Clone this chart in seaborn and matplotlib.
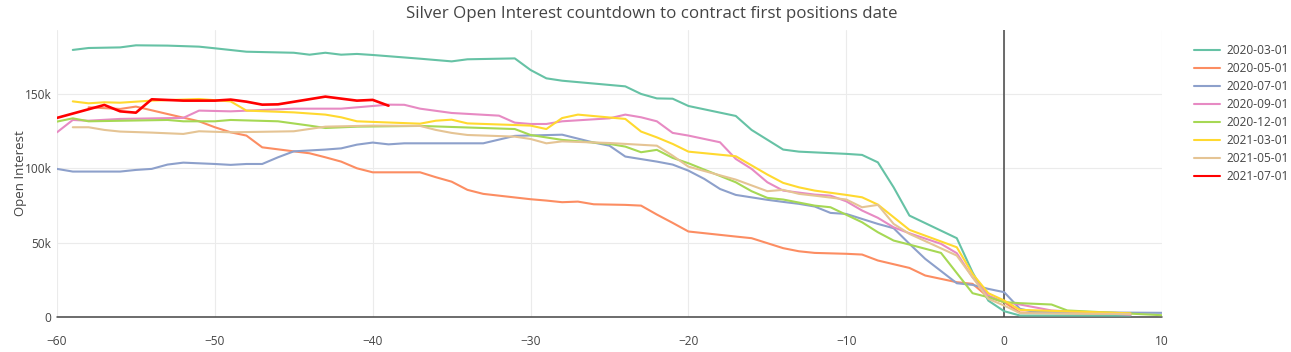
import pandas as pd
import seaborn as sns
import matplotlib.pyplot as plt

# Контракты (легенда) и их значения open interest, тыс. контрактов
contracts = ['2020-03-01', '2020-05-01', '2020-07-01', '2020-09-01',
             '2020-12-01', '2021-03-01', '2021-05-01', '2021-07-01']

days_2003 = [-59, -58, -56, -55, -53, -51, -50, -48, -45, -44, -43, -42, -41, -40, -37, -35, -34,
             -31, -30, -29, -28, -24, -23, -22, -21, -20, -17, -16, -14, -13, -10, -9, -8, -7, -6,
             -3, -2, -1, 0, 1, 8]
oi_2003 = [179.6, 180.9, 181.3, 182.7, 182.5, 181.8, 180.7, 178.4, 177.7, 176.4, 177.7, 176.4, 176.9,
           176.2, 173.7, 171.9, 173.3, 173.9, 166.1, 160.5, 158.9, 155.1, 150.0, 147.0, 146.8, 141.9,
           135.2, 125.8, 112.6, 111.2, 109.7, 109.0, 104.0, 87.2, 68.2, 53.0, 30.0, 11.0, 3.9, 1.0, 1.0]

days_2005 = [-58, -56, -55, -53, -51, -50, -49, -48, -47, -45, -44, -43, -42, -41, -40, -37, -36, -35,
             -34, -33, -30, -29, -28, -27, -26, -24, -23, -22, -21, -20, -17, -16, -14, -13, -12, -10,
             -9, -8, -6, -5, -3, -2, -1, 0, 1, 8]
oi_2005 = [141, 139.9, 141.5, 136.5, 131.6, 127.6, 124.2, 122, 114.1, 111.4, 110.1, 107.4, 104.5, 100,
           97.3, 97.3, 94, 91, 85.5, 82.8, 79.2, 78.3, 77.2, 77.6, 75.8, 75.4, 74.9, 68.9, 63.3, 57.5,
           54.1, 53, 46.3, 44.2, 43.1, 42.5, 42, 38, 33, 27.9, 23.4, 22.3, 13.3, 10, 3, 2]

days_2007 = [-60, -59, -56, -55, -54, -53, -52, -50, -49, -48, -47, -46, -45, -43, -42, -41, -40, -39,
             -38, -33, -32, -31, -28, -26, -25, -24, -22, -21, -20, -19, -18, -17, -15, -14, -13, -12,
             -11, -10, -8, -7, -6, -5, -3, -2, -1, 0, 1, 2, 10]
oi_2007 = [99.6, 97.8, 97.8, 98.9, 99.6, 102.5, 103.8, 102.9, 102.3, 102.9, 102.9, 107.4, 111.4, 112.6,
           113.4, 115.9, 117.3, 116.1, 116.8, 116.8, 119.3, 121.8, 122.6, 117.3, 115.2, 107.9, 104.5,
           102.5, 98.4, 92.9, 86.1, 82.1, 78.8, 77.4, 76.1, 74.3, 70, 69.3, 62.6, 59.7, 49.2, 39.1,
           22.7, 21.6, 18.9, 16.7, 5.5, 3.3, 2.8]

days_2009 = [-60, -59, -58, -56, -52, -51, -49, -45, -42, -39, -38, -37, -35, -32, -31, -30, -29, -28,
             -25, -24, -23, -22, -21, -20, -18, -17, -16, -15, -14, -12, -11, -10, -9, -8, -7, -6, -4,
             -3, -2, -1, 0, 1, 3, 8]
oi_2009 = [124.2, 132.5, 132, 133.2, 133.9, 138.8, 138.3, 140.1, 140.1, 142.8, 142.7, 140.1, 137.2,
           135.4, 130.7, 129.8, 129.8, 131.6, 133.6, 136.1, 134.3, 131.6, 123.8, 122, 117.5, 106.3,
           99.6, 90.6, 85, 82.3, 81.6, 77.8, 71.6, 66.7, 60.3, 56.3, 49.2, 42.9, 26.7, 14.4, 10, 8.4,
           4.4, 1.5]

days_2012 = [-60, -59, -58, -53, -52, -50, -49, -46, -44, -43, -41, -37, -31, -30, -28, -25, -24, -23,
             -22, -21, -20, -17, -16, -15, -14, -12, -11, -9, -8, -7, -6, -4, -2, -1, 0, 1, 3, 4, 10]
oi_2012 = [131.4, 133.6, 131.6, 132.5, 131.6, 131.6, 132.5, 131.6, 128.7, 127.1, 128, 128.5, 126.4,
           122.4, 119.1, 116.4, 114.6, 110.8, 112.4, 107, 103.4, 90.6, 84.6, 80.1, 79, 74.9, 73.8,
           63.7, 57, 51.4, 48.7, 43.1, 16, 13.3, 10, 9.3, 8.4, 4.4, 1.2]

days_2103 = [-59, -58, -57, -56, -54, -51, -49, -48, -45, -43, -42, -41, -37, -36, -35, -34, -31, -30,
             -29, -28, -27, -24, -23, -22, -21, -20, -17, -15, -14, -13, -12, -10, -9, -8, -6, -3, -2,
             -1, 0, 1, 8]
oi_2103 = [145, 143.7, 144.4, 144.1, 145.5, 146.6, 145, 138.8, 137.6, 136.1, 134.3, 131.6, 130, 132,
           132.7, 130.2, 129.1, 128.7, 126.4, 133.8, 136.1, 133.2, 124.7, 120.8, 116.4, 111.2, 108.1,
           95.8, 90.2, 87.2, 85, 82.1, 80.5, 75.6, 58.6, 46.9, 29, 16, 11.1, 4.8, 2.5]

days_2105 = [-59, -58, -57, -56, -54, -52, -51, -49, -45, -43, -40, -37, -36, -35, -34, -31, -30, -29,
             -28, -25, -22, -21, -20, -17, -15, -14, -13, -12, -10, -9, -8, -7, -6, -3, -2, -1, 0, 1, 8]
oi_2105 = [127.6, 127.6, 125.8, 124.7, 124, 123.1, 124.9, 124.2, 124.9, 128, 128.7, 128.5, 125.8,
           123.8, 122.4, 121.3, 119.7, 116.8, 118.1, 117, 115.2, 108.5, 101.1, 92.4, 84.6, 85.5, 82.8,
           81.6, 79, 73.8, 75.4, 62.6, 55.9, 41.3, 26.7, 12.2, 7.7, 2.6, 2]

days_2107 = [-60, -57, -56, -55, -54, -52, -50, -49, -48, -47, -46, -43, -41, -40, -39]
oi_2107 = [133.9, 142.6, 138.3, 137.4, 146.4, 145.5, 145.5, 146.2, 144.8, 142.8, 143, 148.2, 145.5,
           146, 142.1]

days = [days_2003, days_2005, days_2007, days_2009, days_2012, days_2103, days_2105, days_2107]
ois = [oi_2003, oi_2005, oi_2007, oi_2009, oi_2012, oi_2103, oi_2105, oi_2107]

# Собираем длинную таблицу для seaborn
frames = []
for name, d, v in zip(contracts, days, ois):
    frames.append(pd.DataFrame({'days': d, 'oi': [x * 1000 for x in v], 'contract': name}))
df = pd.concat(frames, ignore_index=True)

palette = sns.color_palette('Set2', 7).as_hex() + ['#ff0000']

sns.set_style('white')
plt.rcParams['font.family'] = ['Open Sans', 'DejaVu Sans']

fig = plt.figure(figsize=(12.91, 3.52), dpi=100)
ax = fig.add_axes([57 / 1291, 35 / 352, 1105 / 1291, 287 / 352])

sns.lineplot(data=df, x='days', y='oi', hue='contract', hue_order=contracts,
             palette=palette, estimator=None, sort=False, linewidth=1.5, ax=ax)
ax.lines[len(contracts) - 1].set_linewidth(1.9)

# Сетка и нулевые линии как в plotly
ax.set_xlim(-60, 10)
ax.set_ylim(0, 193000)
ax.set_xticks(range(-60, 11, 10))
ax.set_yticks([0, 50000, 100000, 150000])
ax.set_yticklabels(['0', '50k', '100k', '150k'])
ax.grid(True, color='#ebebeb', linewidth=0.8)
ax.set_axisbelow(True)
ax.axhline(0, color='#444444', linewidth=1.1, zorder=1, clip_on=False)
ax.axvline(0, color='#444444', linewidth=1.1, zorder=1)
for s in ax.spines.values():
    s.set_visible(False)
ax.tick_params(axis='both', length=0, labelsize=8.6, colors='#444444')
ax.tick_params(axis='x', pad=13)
ax.tick_params(axis='y', pad=4)

ax.set_xlabel('')
ax.set_ylabel('Open Interest', fontsize=9.5, color='#444444')
ax.yaxis.set_label_coords(-0.027, 0.5)

fig.suptitle('Silver Open Interest countdown to contract first positions date',
             fontsize=12.2, color='#444444', x=0.505, y=0.983, va='top')

# Легенда справа от графика
handles, labels = ax.get_legend_handles_labels()
ax.legend(handles, labels, loc='upper left', bbox_to_anchor=(1183 / 1291, 1 - 33 / 352),
          bbox_transform=fig.transFigure, frameon=False, fontsize=8.6,
          handlelength=2.2, handletextpad=0.5, labelspacing=0.42, labelcolor='#444444')

plt.savefig('out.png', dpi=100)
